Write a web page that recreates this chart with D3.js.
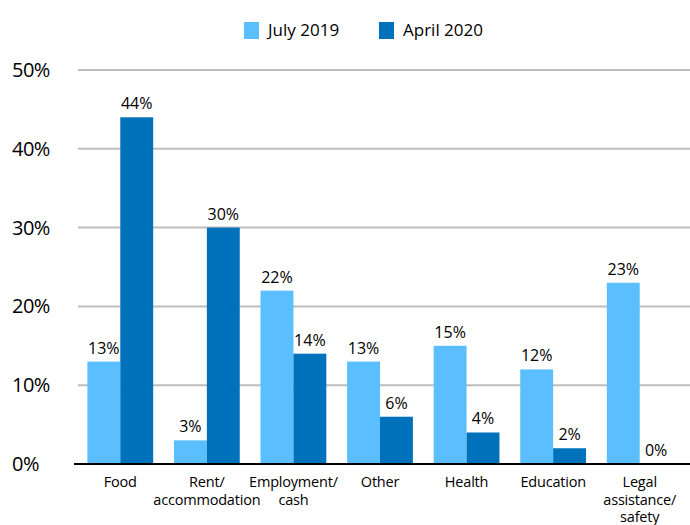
<!DOCTYPE html>
<html>
<head>
<meta charset="utf-8">
<script src="https://cdn.jsdelivr.net/npm/d3@7"></script>
<style>
  body { margin: 0; background: #fff; }
  text { font-family: "Open Sans", "Noto Sans", sans-serif; fill: #000; }
</style>
</head>
<body>
<div id="chart"></div>
<script>
var categories = ['Food', 'Rent/\naccommodation', 'Employment/\ncash', 'Other', 'Health', 'Education', 'Legal\nassistance/\nsafety'];
var seriesNames = ['July 2019', 'April 2020'];
var july2019 = [13, 3, 22, 13, 15, 12, 23];
var april2020 = [44, 30, 14, 6, 4, 2, 0];
var yTicks = [0, 10, 20, 30, 40, 50];
var colors = ['#5bbfff', '#0072bc'];

var width = 690, height = 525;
var margin = {top: 70, right: 7, bottom: 61, left: 77};

var svg = d3.select('#chart').append('svg')
    .attr('width', width)
    .attr('height', height);

var x = d3.scaleBand()
    .domain(categories)
    .range([margin.left, width - margin.right])
    .paddingInner(0.24)
    .paddingOuter(0.12);

var xs = d3.scaleBand()
    .domain(seriesNames)
    .range([0, x.bandwidth()]);

var y = d3.scaleLinear()
    .domain([0, 50])
    .range([height - margin.bottom, margin.top]);

// gridlines
svg.append('g')
    .selectAll('line')
    .data(yTicks.slice(1))
    .enter().append('line')
    .attr('x1', 78).attr('x2', width)
    .attr('y1', function (d) { return y(d); })
    .attr('y2', function (d) { return y(d); })
    .style('stroke', '#bdbdbd')
    .style('stroke-width', 2);

// y labels
svg.append('g')
    .selectAll('text')
    .data(yTicks)
    .enter().append('text')
    .attr('x', 12)
    .attr('y', function (d) { return y(d) + 7; })
    .style('font-size', '20px')
    .style('letter-spacing', '-0.5px')
    .text(function (d) { return d + '%'; });

var rows = categories.map(function (c, i) {
    return [
        {cat: c, s: seriesNames[0], v: july2019[i], col: colors[0]},
        {cat: c, s: seriesNames[1], v: april2020[i], col: colors[1]}
    ];
});

var groups = svg.append('g').selectAll('g')
    .data(rows)
    .enter().append('g')
    .attr('transform', function (d) { return 'translate(' + x(d[0].cat) + ',0)'; });

groups.selectAll('rect')
    .data(function (d) { return d; })
    .enter().append('rect')
    .attr('x', function (d) { return xs(d.s); })
    .attr('width', xs.bandwidth())
    .attr('y', function (d) { return y(d.v); })
    .attr('height', function (d) { return y(0) - y(d.v); })
    .style('fill', function (d) { return d.col; });

groups.selectAll('text.val')
    .data(function (d) { return d; })
    .enter().append('text')
    .attr('class', 'val')
    .attr('x', function (d) { return xs(d.s) + xs.bandwidth() / 2; })
    .attr('y', function (d) { return y(d.v) - 8; })
    .attr('text-anchor', 'middle')
    .style('font-size', '16px')
    .text(function (d) { return d.v + '%'; });

// baseline
svg.append('line')
    .attr('x1', 74).attr('x2', width)
    .attr('y1', y(0)).attr('y2', y(0))
    .style('stroke', '#000')
    .style('stroke-width', 2);

// category labels
var xl = svg.append('g').selectAll('text')
    .data(categories)
    .enter().append('text')
    .attr('text-anchor', 'middle')
    .attr('transform', function (d) { return 'translate(' + (x(d) + x.bandwidth() / 2) + ',' + (y(0) + 23) + ')'; })
    .style('font-size', '14.5px')
    .style('letter-spacing', '-0.2px');

xl.selectAll('tspan')
    .data(function (d) { return d.split('\n'); })
    .enter().append('tspan')
    .attr('x', 0)
    .attr('dy', function (d, i) { return i === 0 ? 0 : 17.5; })
    .text(function (d) { return d; });

// legend
var legendX = [244, 379];
var lg = svg.append('g').selectAll('g')
    .data(seriesNames)
    .enter().append('g')
    .attr('transform', function (d, i) { return 'translate(' + legendX[i] + ',22)'; });

lg.append('rect')
    .attr('width', 15).attr('height', 17)
    .style('fill', function (d, i) { return colors[i]; });

lg.append('text')
    .attr('x', 24).attr('y', 14)
    .style('font-size', '17px')
    .text(function (d) { return d; });
</script>
</body>
</html>
